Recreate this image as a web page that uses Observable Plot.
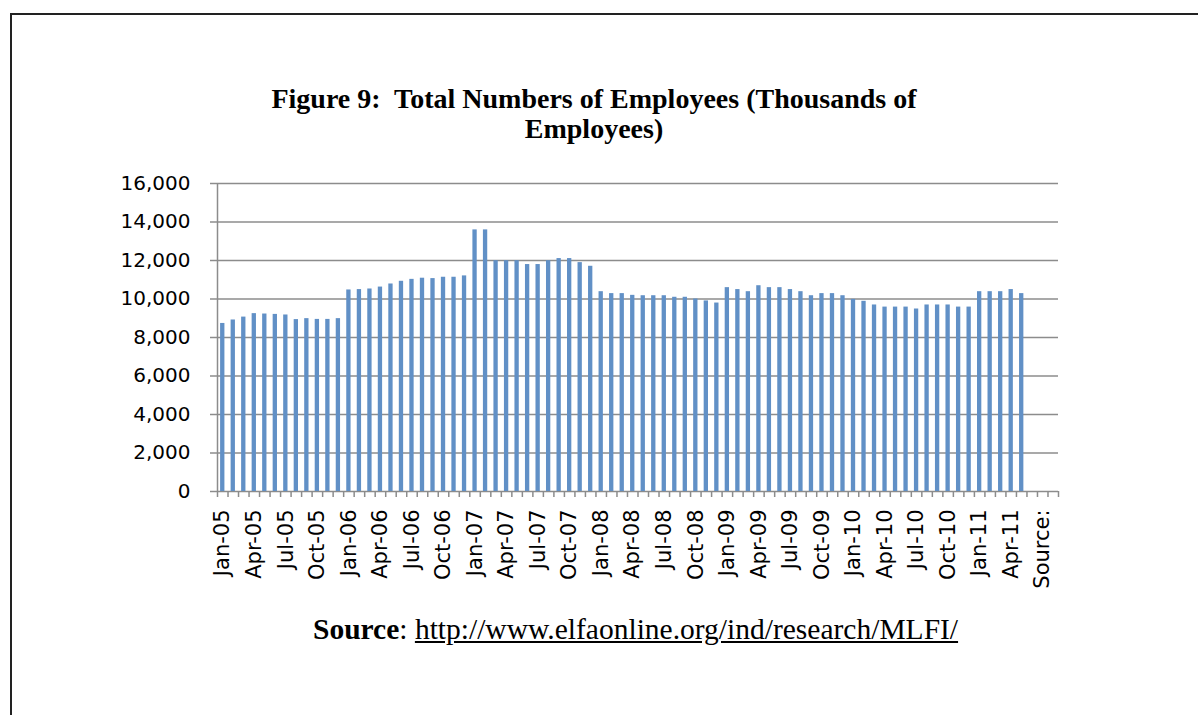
<!DOCTYPE html>
<html><head><meta charset="utf-8">
<script src="https://cdn.jsdelivr.net/npm/d3@7"></script>
<script src="https://cdn.jsdelivr.net/npm/@observablehq/plot@0.6"></script>
<style>
html,body{margin:0;padding:0;background:#fff;width:1198px;height:715px;overflow:hidden;}
#frame{position:absolute;left:10px;top:13px;width:1400px;height:900px;border-left:2px solid #222;border-top:2px solid #222;}
#title{position:absolute;left:194px;width:800px;top:84px;text-align:center;font-family:"Liberation Serif";font-weight:bold;font-size:28px;line-height:30px;color:#000;}
#chart{position:absolute;left:0;top:160px;}
#source{position:absolute;left:313px;top:612px;font-family:"Liberation Serif";font-size:29.5px;line-height:34px;color:#000;white-space:nowrap;}
#source a{color:#000;text-decoration:underline;}
</style>
</head><body>
<div id="frame"></div>
<div id="title"></div>
<div id="chart"></div>
<div id="source"></div>
<script>
const titleLines = ["Figure 9:\u00a0 Total Numbers of Employees (Thousands of", "Employees)"];
const sourceLabel = "Source";
const sourceUrl = "http://www.elfaonline.org/ind/research/MLFI/";

const categories = [
  "Jan-05","Feb-05","Mar-05","Apr-05","May-05","Jun-05","Jul-05","Aug-05","Sep-05","Oct-05","Nov-05","Dec-05",
  "Jan-06","Feb-06","Mar-06","Apr-06","May-06","Jun-06","Jul-06","Aug-06","Sep-06","Oct-06","Nov-06","Dec-06",
  "Jan-07","Feb-07","Mar-07","Apr-07","May-07","Jun-07","Jul-07","Aug-07","Sep-07","Oct-07","Nov-07","Dec-07",
  "Jan-08","Feb-08","Mar-08","Apr-08","May-08","Jun-08","Jul-08","Aug-08","Sep-08","Oct-08","Nov-08","Dec-08",
  "Jan-09","Feb-09","Mar-09","Apr-09","May-09","Jun-09","Jul-09","Aug-09","Sep-09","Oct-09","Nov-09","Dec-09",
  "Jan-10","Feb-10","Mar-10","Apr-10","May-10","Jun-10","Jul-10","Aug-10","Sep-10","Oct-10","Nov-10","Dec-10",
  "Jan-11","Feb-11","Mar-11","Apr-11","May-11","Jun-11","Source:",""
];
const employees = [
  8730, 8910, 9060, 9240, 9220, 9200, 9170, 8930, 8980, 8940, 8940, 8980,
  10470, 10490, 10520, 10620, 10780, 10920, 11020, 11080, 11060, 11130, 11130, 11200,
  13590, 13590, 11990, 11990, 11990, 11790, 11790, 11990, 12100, 12100, 11890, 11700,
  10380, 10280, 10280, 10190, 10170, 10170, 10170, 10090, 10090, 10000, 9900, 9790,
  10590, 10490, 10380, 10690, 10590, 10590, 10490, 10380, 10170, 10280, 10280, 10170,
  9980, 9880, 9690, 9580, 9580, 9580, 9480, 9690, 9690, 9690, 9580, 9580,
  10380, 10380, 10380, 10490, 10280
];
const yTicks = [0, 2000, 4000, 6000, 8000, 10000, 12000, 14000, 16000];

document.getElementById("title").innerHTML = titleLines.join("<br>");
document.getElementById("source").innerHTML = "<b>" + sourceLabel + "</b>: <a>" + sourceUrl + "</a>";

const data = employees.map((v, i) => ({i, value: v}));
const boundaries = d3.range(0, categories.length + 1);
const labelPos = d3.range(0, categories.length, 3).map(i => i + 0.5);
const gray = "#8c8c8c";

const chart = Plot.plot({
  width: 1198,
  height: 460,
  marginTop: 23,
  marginBottom: 129,
  marginLeft: 217,
  marginRight: 140,
  x: {type: "linear", domain: [0, categories.length], label: null},
  y: {domain: [0, 16000], label: null},
  style: {fontFamily: "DejaVu Sans", fontSize: "20px", color: "#000", background: "transparent"},
  marks: [
    Plot.gridY(yTicks, {stroke: gray, strokeOpacity: 1, strokeWidth: 1.5}),
    Plot.ruleX([0], {stroke: gray, strokeWidth: 1.5}),
    Plot.rectY(data, {x1: "i", x2: d => d.i + 1, y: "value", fill: "#6190c6", insetLeft: 3.1, insetRight: 3.1}),
    Plot.axisY(yTicks, {tickFormat: d3.format(","), tickSize: 7, tickPadding: 20, stroke: gray, fill: "#000", strokeWidth: 1.5, label: null}),
    Plot.axisX(boundaries, {tickFormat: () => "", tickSize: 6, stroke: gray, strokeWidth: 1.5, label: null}),
    Plot.axisX(labelPos, {tickFormat: v => categories[Math.floor(v)], tickRotate: -90, tickSize: 0, tickPadding: 18, fill: "#000", fontSize: 21, label: null})
  ]
});
document.getElementById("chart").appendChild(chart);
</script>
</body></html>
